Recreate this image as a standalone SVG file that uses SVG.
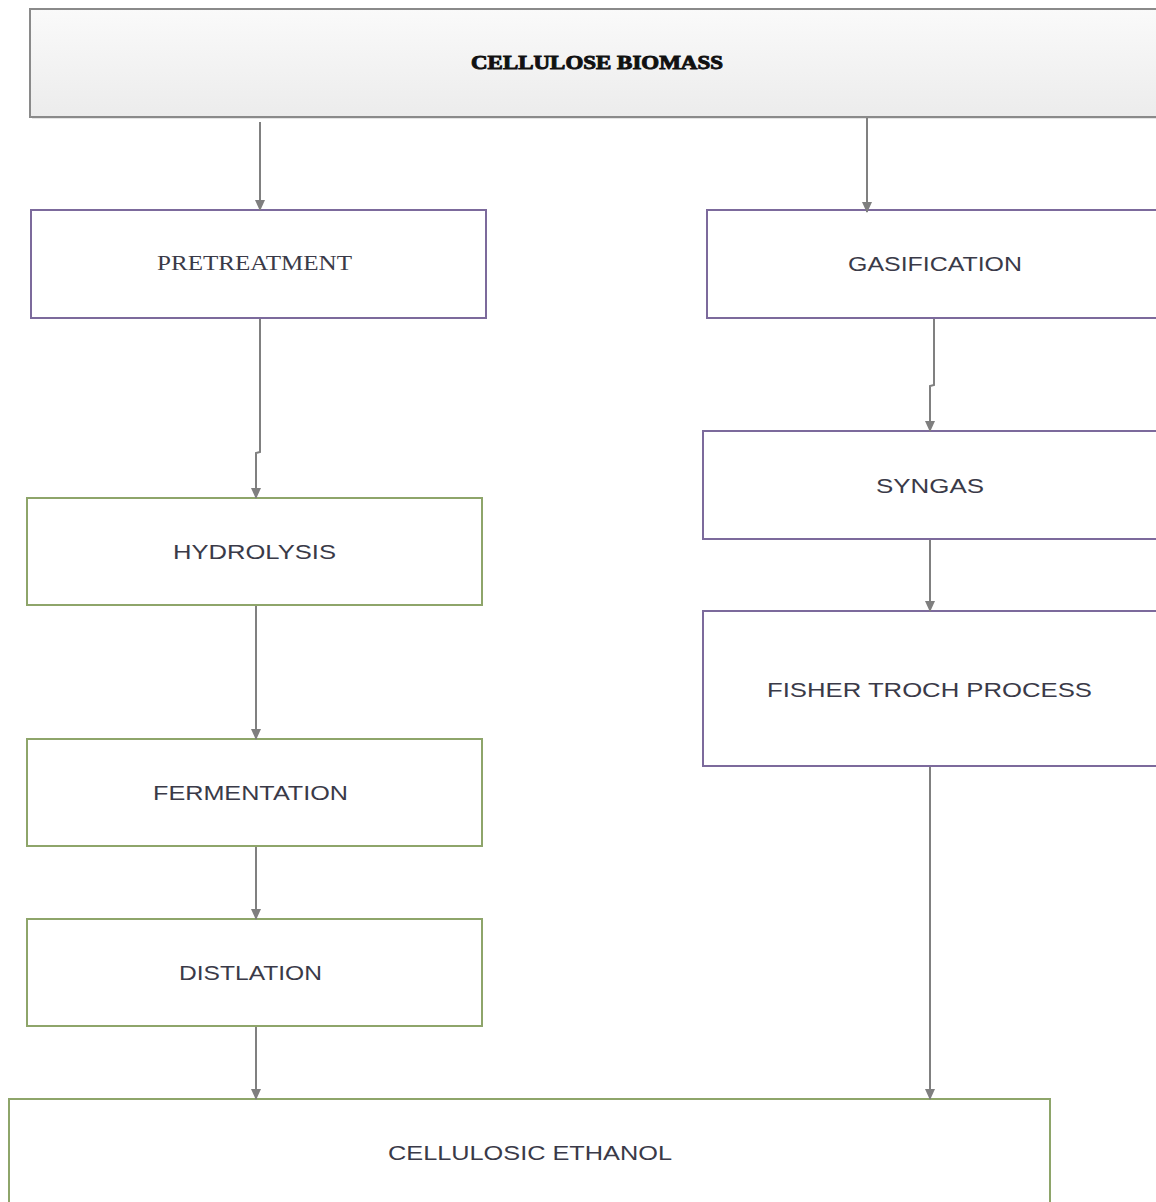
<svg xmlns="http://www.w3.org/2000/svg" width="1156" height="1202" viewBox="0 0 1156 1202">
<defs>
<linearGradient id="topfill" x1="0" y1="0" x2="0" y2="1">
<stop offset="0" stop-color="#fafafa"/>
<stop offset="1" stop-color="#ececec"/>
</linearGradient>
<marker id="arr" markerWidth="12" markerHeight="10" refX="10" refY="5" orient="auto" markerUnits="userSpaceOnUse">
<path d="M0,0 L11,5 L0,10 Z" fill="#7f7f7f"/>
</marker>
<style>
.purple{fill:#ffffff;stroke:#7c6a9c;stroke-width:2}
.green{fill:#ffffff;stroke:#8ea56a;stroke-width:2}
.sans{font-family:"Liberation Sans",Arial,sans-serif;font-size:21px;fill:#3a3a48}
.serif{font-family:"Liberation Serif","Times New Roman",serif;font-size:20px;fill:#3a3a48}
.conn{fill:none;stroke:#808080;stroke-width:2;marker-end:url(#arr)}
</style>
</defs>
<rect width="1156" height="1202" fill="#ffffff"/>
<g id="node-cellulose-biomass">
<rect x="32" y="11" width="1140" height="108" fill="#e4e4e4"/>
<rect x="30" y="9" width="1140" height="108" fill="url(#topfill)" stroke="#8a8a8a" stroke-width="2"/>
<text x="597" y="69" text-anchor="middle" font-family="'Liberation Serif','Times New Roman',serif" font-weight="bold" font-size="19" fill="#111" textLength="252" lengthAdjust="spacingAndGlyphs" stroke="#111" stroke-width="0.9">CELLULOSE BIOMASS</text>
</g>
<g id="node-pretreatment">
<rect x="31" y="210" width="455" height="108" class="purple"/>
<text x="254.5" y="270" text-anchor="middle" class="serif" textLength="195" lengthAdjust="spacingAndGlyphs">PRETREATMENT</text>
</g>
<g id="node-gasification">
<rect x="707" y="210" width="470" height="108" class="purple"/>
<text x="935" y="271" text-anchor="middle" class="sans" textLength="174" lengthAdjust="spacingAndGlyphs">GASIFICATION</text>
</g>
<g id="node-syngas">
<rect x="703" y="431" width="470" height="108" class="purple"/>
<text x="930" y="493" text-anchor="middle" class="sans" textLength="108" lengthAdjust="spacingAndGlyphs">SYNGAS</text>
</g>
<g id="node-fisher-troch">
<rect x="703" y="611" width="470" height="155" class="purple"/>
<text x="929.5" y="697" text-anchor="middle" class="sans" textLength="325" lengthAdjust="spacingAndGlyphs">FISHER TROCH PROCESS</text>
</g>
<g id="node-hydrolysis">
<rect x="27" y="498" width="455" height="107" class="green"/>
<text x="254.5" y="559" text-anchor="middle" class="sans" textLength="163" lengthAdjust="spacingAndGlyphs">HYDROLYSIS</text>
</g>
<g id="node-fermentation">
<rect x="27" y="739" width="455" height="107" class="green"/>
<text x="250.5" y="800" text-anchor="middle" class="sans" textLength="195" lengthAdjust="spacingAndGlyphs">FERMENTATION</text>
</g>
<g id="node-distlation">
<rect x="27" y="919" width="455" height="107" class="green"/>
<text x="250.5" y="980" text-anchor="middle" class="sans" textLength="143" lengthAdjust="spacingAndGlyphs">DISTLATION</text>
</g>
<g id="node-cellulosic-ethanol">
<rect x="9" y="1099" width="1041" height="120" class="green"/>
<text x="530" y="1160" text-anchor="middle" class="sans" textLength="284" lengthAdjust="spacingAndGlyphs">CELLULOSIC ETHANOL</text>
</g>
<g id="connectors">
<path class="conn" d="M260,122 L260,210"/>
<path class="conn" d="M867,118 L867,212"/>
<path class="conn" d="M260,319 L260,452 L256,453 L256,498"/>
<path class="conn" d="M934,319 L934,385 L930,386 L930,431"/>
<path class="conn" d="M930,540 L930,611"/>
<path class="conn" d="M256,606 L256,739"/>
<path class="conn" d="M256,847 L256,919"/>
<path class="conn" d="M256,1027 L256,1099"/>
<path class="conn" d="M930,767 L930,1099"/>
</g>
</svg>
